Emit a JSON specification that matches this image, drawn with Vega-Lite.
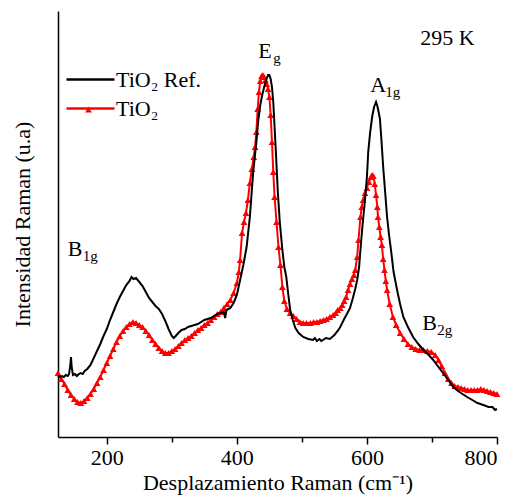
{
  "$schema": "https://vega.github.io/schema/vega-lite/v6.json",
  "width": 439,
  "height": 426,
  "autosize": {"type": "none"},
  "padding": {"left": 58, "top": 11, "right": 20, "bottom": 66},
  "background": "white",
  "config": {
    "font": "Liberation Serif",
    "view": {"stroke": null},
    "axis": {"labelFont": "Liberation Serif", "titleFont": "Liberation Serif", "grid": false, "domainColor": "black", "domainWidth": 1.5, "tickColor": "black", "labelColor": "black", "titleColor": "black", "titleFontWeight": "normal"},
    "legend": {"labelFont": "Liberation Serif", "titleFont": "Liberation Serif"},
    "text": {"font": "Liberation Serif"}
  },
  "datasets": {
    "ref": [
      {"x":125,"y":61},{"x":128,"y":60},{"x":131,"y":61},{"x":134,"y":60},{"x":137,"y":62},{"x":140,"y":61},{"x":142,"y":63},{"x":144,"y":72},{"x":145,"y":80},{"x":146,"y":70},{"x":148,"y":62},{"x":151,"y":63},{"x":154,"y":61},{"x":157,"y":63},{"x":160,"y":64},{"x":163,"y":63},{"x":166,"y":66},{"x":170,"y":68},{"x":175,"y":72},{"x":180,"y":79},{"x":185,"y":86},{"x":190,"y":93},{"x":195,"y":101},{"x":200,"y":108},{"x":205,"y":117},{"x":210,"y":125},{"x":215,"y":133},{"x":220,"y":140},{"x":225,"y":146},{"x":230,"y":152},{"x":235,"y":156},{"x":238,"y":160},{"x":241,"y":158},{"x":245,"y":159},{"x":250,"y":155},{"x":255,"y":151},{"x":260,"y":145},{"x":265,"y":139},{"x":270,"y":135},{"x":275,"y":131},{"x":280,"y":128},{"x":285,"y":123},{"x":290,"y":116},{"x":295,"y":108},{"x":300,"y":101},{"x":303,"y":99},{"x":306,"y":101},{"x":310,"y":104},{"x":315,"y":107},{"x":320,"y":108},{"x":325,"y":110},{"x":330,"y":111},{"x":335,"y":112},{"x":340,"y":113},{"x":345,"y":115},{"x":350,"y":117},{"x":355,"y":118},{"x":360,"y":119},{"x":365,"y":121},{"x":370,"y":123},{"x":375,"y":124},{"x":380,"y":125},{"x":382,"y":119},{"x":384,"y":127},{"x":390,"y":129},{"x":395,"y":134},{"x":400,"y":142},{"x":405,"y":157},{"x":410,"y":172},{"x":415,"y":190},{"x":420,"y":220},{"x":425,"y":264},{"x":430,"y":295},{"x":433,"y":317},{"x":436,"y":332},{"x":439,"y":342},{"x":442,"y":350},{"x":445,"y":357},{"x":448,"y":362},{"x":450,"y":362},{"x":452,"y":358},{"x":454,"y":350},{"x":456,"y":335},{"x":458,"y":310},{"x":460,"y":285},{"x":463,"y":245},{"x":466,"y":215},{"x":470,"y":187},{"x":473,"y":170},{"x":476,"y":160},{"x":479,"y":143},{"x":482,"y":127},{"x":486,"y":117},{"x":490,"y":109},{"x":495,"y":104},{"x":502,"y":100},{"x":510,"y":98},{"x":517,"y":97},{"x":520,"y":99},{"x":523,"y":96},{"x":527,"y":98},{"x":530,"y":96},{"x":537,"y":99},{"x":543,"y":98},{"x":550,"y":102},{"x":555,"y":106},{"x":559,"y":110},{"x":565,"y":118},{"x":570,"y":124},{"x":574,"y":129},{"x":578,"y":138},{"x":582,"y":148},{"x":585,"y":157},{"x":588,"y":170},{"x":590,"y":187},{"x":593,"y":210},{"x":597,"y":237},{"x":600,"y":260},{"x":602,"y":285},{"x":605,"y":305},{"x":608,"y":320},{"x":611,"y":330},{"x":614,"y":335},{"x":616,"y":331},{"x":618,"y":325},{"x":620,"y":318},{"x":622,"y":300},{"x":625,"y":270},{"x":628,"y":245},{"x":631,"y":220},{"x":634,"y":202},{"x":637,"y":187},{"x":641,"y":165},{"x":644,"y":155},{"x":647,"y":145},{"x":651,"y":133},{"x":656,"y":120},{"x":663,"y":110},{"x":671,"y":100},{"x":679,"y":93},{"x":687,"y":87},{"x":695,"y":82},{"x":702,"y":77},{"x":710,"y":70},{"x":717,"y":64},{"x":725,"y":57},{"x":733,"y":50},{"x":740,"y":46},{"x":747,"y":43},{"x":754,"y":40},{"x":762,"y":37},{"x":770,"y":34},{"x":779,"y":32},{"x":787,"y":30},{"x":793,"y":30},{"x":797,"y":27},{"x":800,"y":28}
    ],
    "tio2": [
      {"x":125,"y":64},{"x":130,"y":58},{"x":135,"y":53},{"x":140,"y":47},{"x":145,"y":42},{"x":150,"y":38},{"x":155,"y":35},{"x":160,"y":34},{"x":165,"y":36},{"x":170,"y":39},{"x":175,"y":43},{"x":180,"y":48},{"x":185,"y":54},{"x":190,"y":60},{"x":195,"y":67},{"x":200,"y":74},{"x":205,"y":81},{"x":210,"y":88},{"x":215,"y":95},{"x":220,"y":101},{"x":225,"y":106},{"x":230,"y":110},{"x":235,"y":113},{"x":240,"y":115},{"x":245,"y":114},{"x":250,"y":112},{"x":255,"y":110},{"x":260,"y":106},{"x":265,"y":102},{"x":270,"y":97},{"x":275,"y":93},{"x":280,"y":89},{"x":285,"y":86},{"x":290,"y":84},{"x":295,"y":84},{"x":300,"y":86},{"x":305,"y":88},{"x":310,"y":91},{"x":315,"y":94},{"x":320,"y":97},{"x":325,"y":99},{"x":330,"y":101},{"x":335,"y":104},{"x":340,"y":107},{"x":345,"y":109},{"x":350,"y":112},{"x":355,"y":114},{"x":360,"y":117},{"x":365,"y":120},{"x":370,"y":123},{"x":375,"y":125},{"x":380,"y":129},{"x":385,"y":133},{"x":390,"y":137},{"x":395,"y":144},{"x":400,"y":154},{"x":403,"y":165},{"x":405,"y":177},{"x":408,"y":204},{"x":411,"y":215},{"x":414,"y":224},{"x":417,"y":237},{"x":420,"y":254},{"x":423,"y":268},{"x":426,"y":280},{"x":428,"y":290},{"x":430,"y":305},{"x":432,"y":328},{"x":434,"y":345},{"x":436,"y":356},{"x":438,"y":361},{"x":440,"y":362},{"x":442,"y":360},{"x":444,"y":357},{"x":446,"y":353},{"x":448,"y":348},{"x":450,"y":340},{"x":452,"y":322},{"x":454,"y":295},{"x":456,"y":265},{"x":458,"y":240},{"x":461,"y":215},{"x":464,"y":190},{"x":467,"y":172},{"x":470,"y":150},{"x":473,"y":136},{"x":477,"y":128},{"x":482,"y":124},{"x":487,"y":121},{"x":492,"y":118},{"x":497,"y":115},{"x":502,"y":114},{"x":507,"y":114},{"x":513,"y":114},{"x":518,"y":115},{"x":523,"y":115},{"x":528,"y":116},{"x":533,"y":117},{"x":538,"y":118},{"x":543,"y":120},{"x":548,"y":122},{"x":552,"y":124},{"x":555,"y":127},{"x":559,"y":129},{"x":562,"y":132},{"x":565,"y":136},{"x":568,"y":140},{"x":571,"y":147},{"x":574,"y":153},{"x":577,"y":158},{"x":580,"y":162},{"x":582,"y":167},{"x":585,"y":180},{"x":587,"y":197},{"x":590,"y":220},{"x":592,"y":230},{"x":594,"y":237},{"x":597,"y":244},{"x":600,"y":249},{"x":603,"y":255},{"x":606,"y":260},{"x":608,"y":262},{"x":610,"y":261},{"x":612,"y":253},{"x":614,"y":242},{"x":616,"y":230},{"x":617,"y":220},{"x":619,"y":210},{"x":621,"y":200},{"x":623,"y":192},{"x":625,"y":178},{"x":627,"y":167},{"x":629,"y":156},{"x":631,"y":147},{"x":635,"y":133},{"x":640,"y":120},{"x":645,"y":112},{"x":651,"y":104},{"x":657,"y":98},{"x":663,"y":93},{"x":669,"y":90},{"x":675,"y":88},{"x":681,"y":87},{"x":687,"y":87},{"x":693,"y":86},{"x":699,"y":85},{"x":705,"y":82},{"x":710,"y":77},{"x":715,"y":71},{"x":720,"y":64},{"x":725,"y":58},{"x":730,"y":54},{"x":735,"y":51},{"x":740,"y":50},{"x":745,"y":49},{"x":750,"y":48},{"x":755,"y":47},{"x":760,"y":47},{"x":765,"y":47},{"x":770,"y":47},{"x":775,"y":48},{"x":780,"y":47},{"x":785,"y":46},{"x":790,"y":45},{"x":795,"y":44},{"x":800,"y":43}
    ]
  },
  "encoding": {
    "x": {"field": "x", "type": "quantitative", "scale": {"domain": [125, 800], "nice": false, "zero": false},
      "axis": {"values": [200, 300, 400, 500, 600, 700, 800], "labelExpr": "datum.value % 200 == 0 ? datum.label : ''", "tickSize": {"condition": {"test": "datum.value % 200 == 0", "value": 7}, "value": 5}, "tickWidth": 1.5, "labelFont": "Liberation Serif", "labelFontSize": 22, "labelPadding": 3, "title": "Desplazamiento Raman (cm⁻¹)", "titleFont": "Liberation Serif", "titleFontSize": 22, "titlePadding": 4}},
    "y": {"field": "y", "type": "quantitative", "scale": {"domain": [0, 426], "nice": false},
      "axis": {"ticks": false, "labels": false, "title": "Intensidad Raman (u.a)", "titleFont": "Liberation Serif", "titleFontSize": 22, "titlePadding": 24}}
  },
  "layer": [
    {
      "data": {"name": "tio2"},
      "mark": {"type": "line", "strokeWidth": 2, "color": "#ff0000"},
      "encoding": {}
    },
    {
      "data": {"name": "tio2"},
      "transform": [{"calculate": "'TiO₂'", "as": "s"}],
      "mark": {"type": "point", "filled": true, "size": 45, "opacity": 1, "color": "#ff0000"},
      "encoding": {
        "shape": {"field": "s", "type": "nominal", "scale": {"range": ["triangle-up"]},
          "legend": {"orient": "none", "legendX": 26, "legendY": 94, "title": null, "labelOpacity": 0, "symbolFillColor": "#ff0000", "symbolStrokeColor": "#ff0000", "symbolSize": 45, "labelFontSize": 1}}
      }
    },
    {
      "data": {"name": "ref"},
      "mark": {"type": "line", "strokeWidth": 2, "color": "black"},
      "encoding": {}
    },
    {
      "data": {"values": [
        {"series": "TiO₂ Ref."}, {"series": "TiO₂"}
      ]},
      "mark": {"type": "line", "opacity": 0},
      "encoding": {
        "x": {"datum": 125},
        "y": {"datum": 0},
        "color": {"field": "series", "type": "nominal", "sort": null,
          "scale": {"domain": ["TiO₂ Ref.", "TiO₂"], "range": ["black", "#ff0000"]},
          "legend": {"orient": "none", "legendX": 19, "legendY": 55, "title": null, "symbolType": "M-2,0H2", "symbolSize": 576, "symbolStrokeWidth": 2.5, "symbolOpacity": 1, "labelFontSize": 22, "labelFont": "Liberation Serif", "labelColor": "black", "labelOffset": 12, "rowPadding": 4}}
      }
    },
    {
      "data": {"values": [
        {"x": 682, "y": 392, "main": "295 K", "sub": ""},
        {"x": 433, "y": 379, "main": "E", "sub": "g"},
        {"x": 605, "y": 345, "main": "A", "sub": "1g"},
        {"x": 140, "y": 181, "main": "B", "sub": "1g"},
        {"x": 685, "y": 107, "main": "B", "sub": "2g"}
      ]},
      "layer": [
        {"mark": {"type": "text", "align": "left", "baseline": "alphabetic", "fontSize": 22, "color": "black", "font": "Liberation Serif"},
         "encoding": {"text": {"field": "main"}}},
        {"mark": {"type": "text", "align": "left", "baseline": "alphabetic", "fontSize": 15, "dx": 15, "dy": 5, "color": "black", "font": "Liberation Serif"},
         "encoding": {"text": {"field": "sub"}}}
      ]
    }
  ]
}
